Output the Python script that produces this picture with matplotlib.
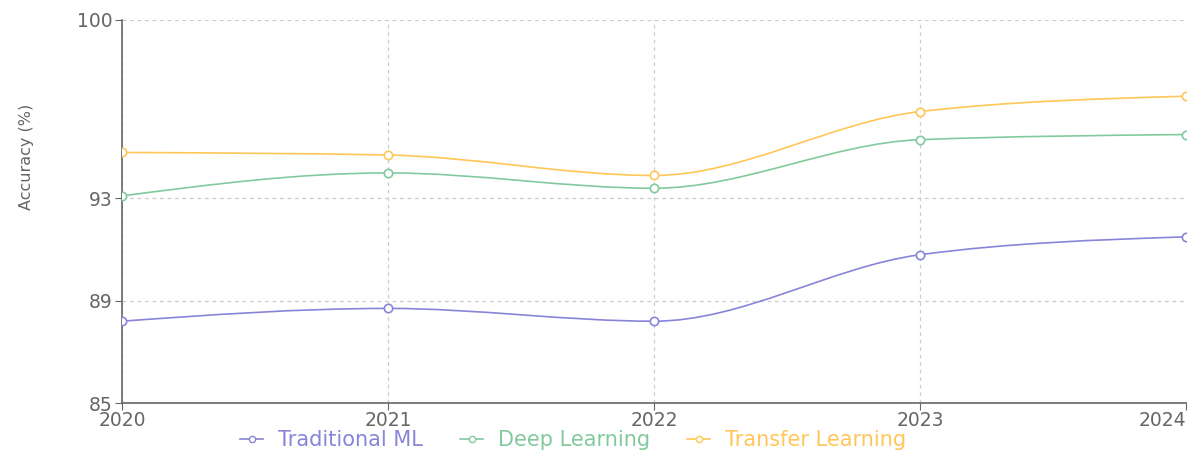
import numpy as np
import matplotlib
matplotlib.use("Agg")
import matplotlib.pyplot as plt
from matplotlib.path import Path
from matplotlib.patches import PathPatch
from matplotlib.lines import Line2D

years = [2020, 2021, 2022, 2023, 2024]
traditional_ml = [88.2, 88.7, 88.2, 90.8, 91.5]
deep_learning = [93.1, 94.0, 93.4, 95.3, 95.5]
transfer_learning = [94.8, 94.7, 93.9, 96.4, 97.0]
y_ticks = [85, 89, 93, 100]

series = [
    ("Traditional ML", traditional_ml, "#8884d8"),
    ("Deep Learning", deep_learning, "#82ca9d"),
    ("Transfer Learning", transfer_learning, "#ffc658"),
]

plt.rcParams['font.family'] = ['DejaVu Sans']


def monotone_path(x, y):
    # same tangents as d3 curveMonotoneX
    x = np.asarray(x, float)
    y = np.asarray(y, float)
    n = len(x)
    h = np.diff(x)
    s = np.diff(y) / h
    t = np.zeros(n)
    for i in range(1, n - 1):
        h0, h1 = h[i - 1], h[i]
        s0, s1 = s[i - 1], s[i]
        p = (s0 * h1 + s1 * h0) / (h0 + h1)
        t[i] = (np.sign(s0) + np.sign(s1)) * min(abs(s0), abs(s1), 0.5 * abs(p))
    t[0] = (3 * s[0] - t[1]) / 2
    t[-1] = (3 * s[-1] - t[-2]) / 2
    verts = [(x[0], y[0])]
    codes = [Path.MOVETO]
    for i in range(n - 1):
        dx = (x[i + 1] - x[i]) / 3
        verts += [(x[i] + dx, y[i] + dx * t[i]),
                  (x[i + 1] - dx, y[i + 1] - dx * t[i + 1]),
                  (x[i + 1], y[i + 1])]
        codes += [Path.CURVE4] * 3
    return Path(verts, codes)


fig = plt.figure(figsize=(12.01, 4.69), dpi=100)
ax = fig.add_axes([0.1016, 0.1407, 0.8859, 0.8177])

for name, vals, col in series:
    ax.add_patch(PathPatch(monotone_path(years, vals), facecolor='none',
                           edgecolor=col, lw=1.2, zorder=3))
    ax.plot(years, vals, 'o', ms=6, mfc='white', mec=col, mew=1.2, zorder=4)

ax.set_xlim(years[0], years[-1])
ax.set_ylim(85, 100)
ax.set_xticks(years)
ax.set_yticks(y_ticks)

ax.grid(True, color='#cccccc', linestyle=(0, (3, 3)), lw=0.9)
ax.set_axisbelow(True)
for sp in ['top', 'right']:
    ax.spines[sp].set_visible(False)
for sp in ['left', 'bottom']:
    ax.spines[sp].set_color('#666666')
    ax.spines[sp].set_linewidth(1.2)
ax.tick_params(colors='#666666', labelsize=13.5, length=5)
ax.tick_params(axis='x', pad=1)
ax.tick_params(axis='y', pad=2)
xl = ax.get_xticklabels()
xl[-1].set_ha('right')

fig.text(27 / 1201, 1 - 157 / 469, "Accuracy (%)", rotation=90, color='#666666',
         fontsize=11.5, ha='center', va='center')

handles = [Line2D([0], [0], color=col, lw=1.2, marker='o', ms=4.5,
                  mfc='white', mec=col) for _, _, col in series]
leg = fig.legend(handles, [s[0] for s in series], loc='center',
                 bbox_to_anchor=(573 / 1201, 1 - 440 / 469), ncol=3, frameon=False,
                 fontsize=15, handlelength=1.1, handletextpad=0.7,
                 columnspacing=1.8, borderpad=0.0)
for txt, (_, _, col) in zip(leg.get_texts(), series):
    txt.set_color(col)

fig.savefig("out.png", dpi=100)
